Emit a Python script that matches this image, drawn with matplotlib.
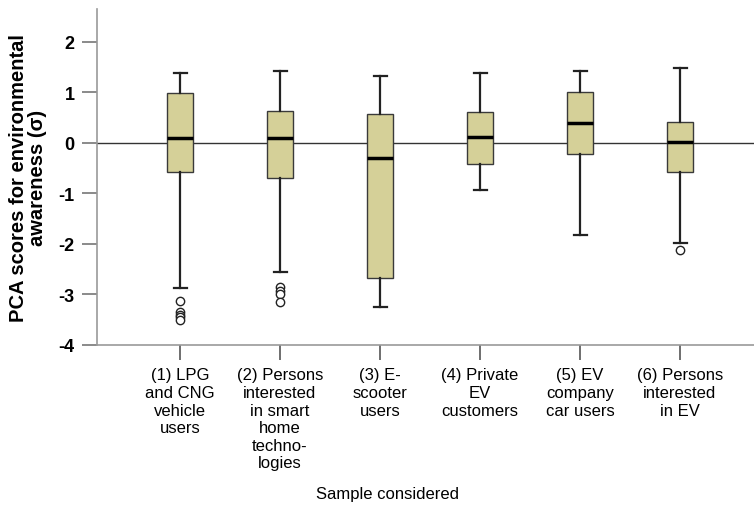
import matplotlib.pyplot as plt

plt.rcParams['font.family'] = ['Liberation Sans', 'DejaVu Sans']

labels = ["(1) LPG\nand CNG\nvehicle\nusers",
          "(2) Persons\ninterested\nin smart\nhome\ntechno-\nlogies",
          "(3) E-\nscooter\nusers",
          "(4) Private\nEV\ncustomers",
          "(5) EV\ncompany\ncar users",
          "(6) Persons\ninterested\nin EV"]
whisker_lo = [-2.88, -2.56, -3.25, -0.94, -1.83, -1.98]
q1 = [-0.57, -0.69, -2.67, -0.41, -0.22, -0.57]
median = [0.09, 0.10, -0.30, 0.12, 0.39, 0.02]
q3 = [0.98, 0.63, 0.57, 0.61, 1.00, 0.42]
whisker_hi = [1.38, 1.43, 1.33, 1.39, 1.42, 1.48]
outliers = [[-3.12, -3.35, -3.40, -3.45, -3.50],
            [-2.86, -2.93, -3.00, -3.14],
            [], [], [],
            [-2.12]]

stats = []
for i in range(len(labels)):
    stats.append(dict(whislo=whisker_lo[i], q1=q1[i], med=median[i], q3=q3[i],
                      whishi=whisker_hi[i], fliers=outliers[i]))

fig = plt.figure(figsize=(7.54, 5.06), dpi=100)
ax = fig.add_axes([97 / 754, 1 - 346 / 506, 1 - 97 / 754, 336 / 506])

ax.axhline(0, color="#333333", lw=1.0, zorder=1)

ax.bxp(stats, positions=range(1, 7), widths=0.26, patch_artist=True,
       boxprops=dict(facecolor="#d5d098", edgecolor="#3a3a3a", lw=1.0),
       medianprops=dict(color="black", lw=2.5),
       whiskerprops=dict(color="#222222", lw=1.6),
       capprops=dict(color="#222222", lw=1.6),
       capwidths=0.13,
       flierprops=dict(marker="o", markerfacecolor="white", markeredgecolor="#222222",
                       markersize=6, markeredgewidth=1.0),
       zorder=2)

ax.set_xlim(0.17, 6.74)
ax.set_ylim(-4, 2.65)
ax.set_yticks([-4, -3, -2, -1, 0, 1, 2])
ax.set_yticklabels(["-4", "-3", "-2", "-1", "0", "1", "2"], fontsize=13, fontweight="bold")
ax.set_xticks(range(1, 7))
ax.set_xticklabels(labels, fontsize=12, linespacing=1.22)

for s in ["top", "right"]:
    ax.spines[s].set_visible(False)
for s in ["left", "bottom"]:
    ax.spines[s].set_color("#999999")
    ax.spines[s].set_linewidth(1.2)
ax.tick_params(axis="y", direction="out", length=11, width=1.2, color="#777777", pad=5)
ax.tick_params(axis="x", direction="out", length=11, width=1.2, color="#555555", pad=5)

ax.set_ylabel("PCA scores for environmental\nawareness (σ)", fontsize=14.5, fontweight="bold",
              linespacing=1.0)
ax.yaxis.set_label_coords(-50 / 657, 0.5)
ax.set_xlabel("Sample considered", fontsize=12)
ax.xaxis.set_label_coords((387 - 97) / 657, -141 / 336)

fig.savefig("out.png", dpi=100)
